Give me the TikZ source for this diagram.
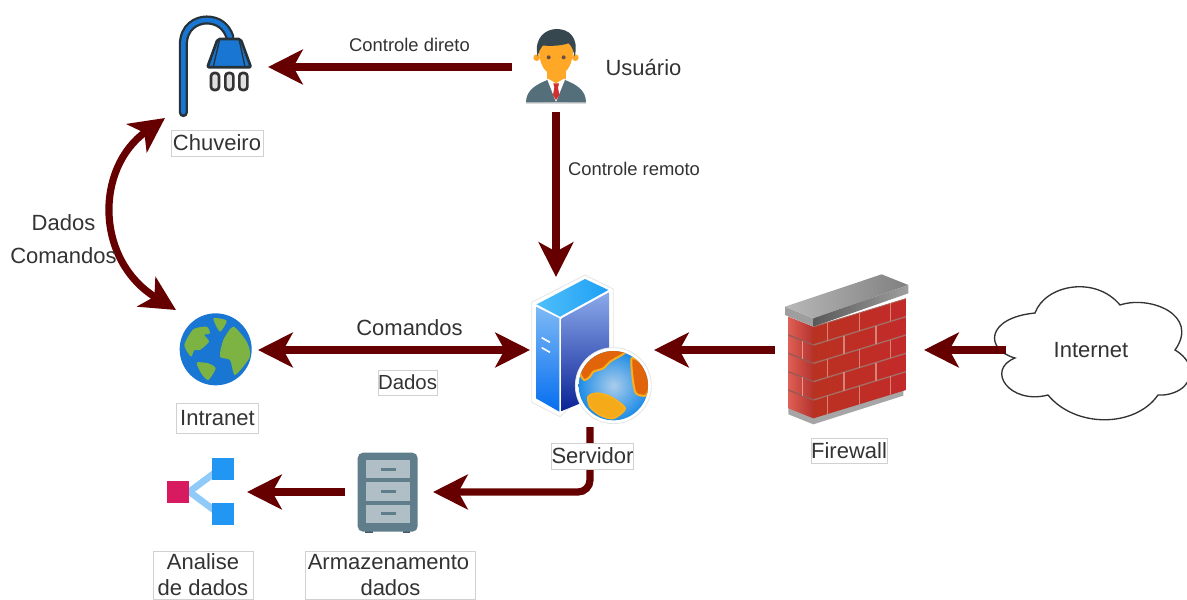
\documentclass[tikz,border=0pt]{standalone}
\usepackage{fontspec}
\setmainfont{Liberation Sans}
\usetikzlibrary{arrows.meta}
\definecolor{flowc}{HTML}{660000}
\definecolor{txt}{HTML}{333333}
\definecolor{pipeblue}{HTML}{1976D2}
\definecolor{outl}{HTML}{263238}
\definecolor{skin}{HTML}{FFA726}
\definecolor{suit}{HTML}{546E7A}
\definecolor{tie}{HTML}{D32F2F}
\definecolor{hair}{HTML}{37474F}
\definecolor{eye}{HTML}{6D4C41}
\definecolor{grn}{HTML}{7CB342}
\definecolor{sla}{RGB}{125,185,245}
\definecolor{slb}{RGB}{5,110,240}
\definecolor{sra}{RGB}{140,170,235}
\definecolor{srb}{RGB}{10,35,150}
\definecolor{sta}{RGB}{80,190,250}
\definecolor{stb}{RGB}{30,160,245}
\definecolor{gla}{RGB}{170,205,235}
\definecolor{glb}{RGB}{30,140,230}
\definecolor{landa}{RGB}{225,100,10}
\definecolor{landb}{RGB}{250,175,30}
\definecolor{landc}{RGB}{245,170,25}
\definecolor{wla}{RGB}{222,95,85}
\definecolor{wlb}{RGB}{180,50,45}
\definecolor{wra}{RGB}{185,50,32}
\definecolor{wrb}{RGB}{195,42,42}
\definecolor{mora}{RGB}{165,110,100}
\definecolor{morb}{RGB}{215,130,120}
\definecolor{morc}{RGB}{150,90,85}
\definecolor{mord}{RGB}{235,150,140}
\definecolor{cabd}{HTML}{455A64}
\definecolor{cab}{HTML}{607D8B}
\definecolor{cabl}{HTML}{B0BEC5}
\definecolor{lblue}{HTML}{90CAF9}
\definecolor{pink}{HTML}{D81B60}
\definecolor{sqblue}{HTML}{2196F3}
\tikzset{
  flow/.style={line width=5.4pt,draw=flowc,-{Stealth[length=26pt,width=26pt,inset=7pt]}},
  flowboth/.style={line width=5.4pt,draw=flowc,{Stealth[length=26pt,width=26pt,inset=7pt]}-{Stealth[length=26pt,width=26pt,inset=7pt]}},
  anchorbox/.style={inner sep=0pt,outer sep=0pt,text=txt,font=\fontsize{16.5}{19.5}\selectfont},
  tag/.style={draw=black!18,line width=.6pt,fill=white,inner sep=0pt,text=txt,align=center,font=\fontsize{16.5}{19.5}\selectfont},
  plain/.style={inner sep=0pt,text=txt,align=center,font=\fontsize{16.5}{19.5}\selectfont},
  small/.style={inner sep=0pt,text=txt,font=\fontsize{13.8}{16}\selectfont},
  zoomed/.style={scale=1/3},
  land/.style={fill=landa,draw=landb,line width=1.5pt},
}
\begin{document}
\begin{tikzpicture}[x=0.75pt,y=-0.75pt]
\useasboundingbox (0,0) rectangle (1187,599);
\clip (0,0) rectangle (1187,599);
\fill[white] (0,0) rectangle (1187,599);

% ---- icon anchor nodes
\node[anchorbox,minimum width=66pt,minimum height=67.5pt] (usuario) at (556,67) {};
\node[anchorbox,minimum width=66pt,minimum height=75pt] (chuveiro) at (224,67) {};
\node[anchorbox,minimum width=63pt,minimum height=57pt] (intranet) at (216,350) {};
\node[anchorbox,minimum width=93pt,minimum height=109.5pt] (servidor) at (592,350) {};
\node[anchorbox,minimum width=111.75pt,minimum height=105pt] (firewall) at (849.5,350) {};
\node[anchorbox,minimum width=66pt,minimum height=60pt] (armario) at (389,492) {};
\node[anchorbox,minimum width=70.5pt,minimum height=52.5pt] (analise) at (200,492) {};
\coordinate (chcurve) at (165,118);
\coordinate (incurve) at (176,310);
\coordinate (srvout) at (590,427);
\coordinate (srvin) at (556,277);

% ---- cloud
\draw[line width=1pt,draw=black!80,fill=white]
 (1035,313) .. controls (1045,285) and (1095,275) .. (1120,305)
 .. controls (1150,295) and (1200,315) .. (1175,350)
 .. controls (1182,354) and (1190,362) .. (1190,370)
 .. controls (1192,388) and (1172,396) .. (1158,395)
 .. controls (1135,428) and (1075,428) .. (1048,395)
 .. controls (1010,405) and (985,370) .. (1015,358)
 .. controls (985,350) and (985,318) .. (1035,313) -- cycle;
\node[anchorbox,minimum width=127.5pt,minimum height=97.5pt] (internet) at (1091,350) {Internet};

% ---- connectors
\draw[flow] (usuario.west) -- (chuveiro.east);
\draw[flow] (usuario.south) -- (srvin);
\draw[flowboth] (intranet.east) -- (servidor.west);
\draw[flow] (firewall.west) -- (servidor.east);
\draw[flow] (internet.west) -- (firewall.east);
\draw[flow,rounded corners=9pt] (srvout) -- (srvout |- armario.east) -- (armario.east);
\draw[flow] (armario.west) -- (analise.east);
\draw[flowboth] (chcurve) .. controls (95,168) and (95,260) .. (incurve);

% ---- shower
\begin{scope}[shift={(150,0)},zoomed]
\draw[line width=6.8pt,draw=outl,line cap=round]
 (100,338) -- (100,135) .. controls (100,80) and (140,60) .. (170,60) .. controls (205,60) and (230,80) .. (240,112);
\draw[line width=3.4pt,draw=pipeblue,line cap=round]
 (100,336) -- (100,135) .. controls (100,80) and (140,60) .. (170,60) .. controls (205,60) and (230,80) .. (240,112);
\draw[line width=2pt,draw=outl,fill=pipeblue,rounded corners=1.5pt,line join=round]
 (203,117) -- (272,117) -- (303,202) -- (172,202) -- cycle;
\draw[line width=1pt,draw=outl] (208,122) -- (190,200);
\draw[line width=1pt,draw=outl] (268,122) -- (285,200);
\foreach \px in {195,238,280}{
 \draw[line width=2pt,draw=black!80,fill=black!12,rounded corners=2.4pt] (\px-12,219) rectangle (\px+12,270);
}
\end{scope}

% ---- user
\begin{scope}[shift={(500,15)},zoomed]
\fill[skin] (110,128) circle (10);
\fill[skin] (226,128) circle (10);
\fill[skin] (140,160) rectangle (197,197);
\fill[skin] (116,80) .. controls (114,165) and (145,180) .. (168,180) .. controls (191,180) and (222,165) .. (220,80) -- cycle;
\fill[black!15] (78,258) rectangle (258,266);
\fill[white] (140,192) -- (197,192) -- (205,262) -- (135,262) -- cycle;
\fill[skin] (143,190) -- (168,205) -- (193,190) -- cycle;
\fill[suit] (78,262) .. controls (78,225) and (110,208) .. (142,195) -- (168,262) -- (195,195) .. controls (228,208) and (258,225) .. (258,262) -- cycle;
\fill[tie] (160,205) -- (177,205) -- (174,218) -- (178,240) -- (168,255) -- (159,240) -- (163,218) -- cycle;
\fill[hair] (113,125) .. controls (100,65) and (140,42) .. (170,42) .. controls (205,42) and (238,65) .. (224,125) .. controls (220,105) and (215,92) .. (205,85) .. controls (175,95) and (145,92) .. (128,92) .. controls (120,100) and (117,110) .. (113,125) -- cycle;
\fill[eye] (146,127) circle (6);
\fill[eye] (191,127) circle (6);
\end{scope}

% ---- intranet globe
\begin{scope}[shift={(165,300)},zoomed]
\fill[pipeblue] (152,148) circle (108);
\begin{scope}
\clip (152,148) circle (106);
\fill[grn] plot[smooth cycle,tension=.4] coordinates {(145,55)(185,62)(165,95)};
\fill[grn] plot[smooth cycle,tension=.4] coordinates {(205,80)(245,125)(255,170)(210,225)(195,180)(165,170)(175,120)};
\fill[grn] plot[smooth cycle,tension=.4] coordinates {(58,135)(85,88)(125,80)(135,100)(118,105)(132,125)(105,150)(88,150)(78,170)};
\fill[grn] plot[smooth cycle,tension=.4] coordinates {(95,188)(130,190)(152,205)(130,240)(110,222)};
\end{scope}
\end{scope}

% ---- server
\begin{scope}[shift={(510,265)},zoomed]
\draw[draw=black!10,fill=white,line width=.6pt,line join=round] (225,30) -- (310,72) -- (310,300) -- (150,455) -- (65,412) -- (65,112) -- cycle;
\shade[top color=sla,bottom color=slb] (78,125) -- (148,160) -- (148,440) -- (78,400) -- cycle;
\shade[top color=sra,bottom color=srb] (155,160) -- (297,82) -- (297,380) -- (155,438) -- cycle;
\shade[left color=sta,right color=stb] (225,42) -- (295,75) -- (150,155) -- (80,118) -- cycle;
\draw[white,line width=1.2pt] (95,218) -- (120,232) (95,248) -- (120,262);
\draw[draw=black!10,fill=white,line width=.6pt] (310,362) circle (114);
\shade[inner color=gla,outer color=glb] (310,362) circle (104);
\begin{scope}
\clip (310,362) circle (104);
\path[land] plot[smooth cycle,tension=.45] coordinates {(210,315)(250,265)(300,252)(345,262)(300,290)(280,310)(250,320)(240,335)(222,345)};
\path[land] plot[smooth cycle,tension=.45] coordinates {(365,280)(395,295)(420,340)(410,390)(378,385)(368,340)};
\path[land,fill=landc] plot[smooth cycle,tension=.45] coordinates {(235,395)(260,385)(300,395)(345,430)(310,460)(270,450)(240,425)};
\end{scope}
\end{scope}

% ---- firewall
\begin{scope}[shift={(770,265)},zoomed]
\fill[black!35] (55,425) -- (130,455) -- (400,370) -- (400,392) -- (130,478) -- (55,448) -- cycle;
\shade[left color=wla,right color=wlb] (55,155) -- (130,185) -- (130,460) -- (55,430) -- cycle;
\shade[left color=wra,right color=wrb] (130,185) -- (408,100) -- (408,375) -- (130,460) -- cycle;
\begin{scope}
\clip (130,185) -- (408,100) -- (408,375) -- (130,460) -- cycle;
\foreach \r in {0,1,2,3,4}{
 \draw[draw=mora,line width=1pt] (130,185+55*\r) -- (408,100+55*\r);
}
\foreach \r/\xx in {0/172,0/268,0/362,1/222,1/318,2/172,2/268,2/362,3/222,3/318,4/172,4/268,4/362}{
 \pgfmathsetmacro{\ya}{185+55*\r+(\xx-130)*(-0.3058)}
 \pgfmathsetmacro{\yb}{\ya+55}
 \draw[draw=morb,line width=1.2pt] (\xx,\ya) -- (\xx,\yb);
}
\end{scope}
\begin{scope}
\clip (55,155) -- (130,185) -- (130,460) -- (55,430) -- cycle;
\foreach \r in {1,2,3,4}{
 \draw[draw=morc,line width=1pt] (55,155+55*\r) -- (130,185+55*\r);
}
\draw[draw=mord,line width=1pt] (97,227) -- (97,283) (97,337) -- (97,393);
\end{scope}
\fill[black!38] (45,125) -- (130,160) -- (130,185) -- (45,150) -- cycle;
\shade[left color=black!28,right color=black!50] (45,125) -- (335,28) -- (415,60) -- (130,160) -- cycle;
\shade[left color=black!65,right color=black!38] (130,160) -- (415,60) -- (415,85) -- (130,185) -- cycle;
\end{scope}

% ---- filing cabinet and analysis icon
\begin{scope}[shift={(150,440)},zoomed]
\fill[cabd] (645,265) rectangle (668,279);
\fill[cabd] (758,265) rectangle (780,279);
\fill[cab,rounded corners=4pt] (623,38) rectangle (803,275);
\foreach \yy in {60,127,194}{
 \fill[cabl] (647,\yy) rectangle (780,\yy+55);
 \fill[cab] (692,\yy+23) rectangle (737,\yy+32);
}
\draw[line width=5pt,draw=lblue] (118,155) -- (192,100);
\draw[line width=5pt,draw=lblue] (118,155) -- (192,210);
\fill[pink] (52,122) rectangle (118,188);
\fill[sqblue] (186,54) rectangle (253,120);
\fill[sqblue] (186,190) rectangle (253,255);
\end{scope}

% ---- labels
\node[tag,minimum width=69pt,minimum height=19.5pt] (lchuveiro) at (217,143) {Chuveiro};
\node[tag,minimum width=62pt,minimum height=19.5pt] (lservidor) at (592.5,456) {Servidor};
\node[tag,minimum width=57pt,minimum height=18.75pt] (lfirewall) at (849,450.5) {Firewall};
\node[tag,minimum width=61pt,minimum height=22.5pt] (lintranet) at (217.5,418) {Intranet};
\node[tag,minimum width=44pt,minimum height=18.75pt,font=\fontsize{15.3}{18}\selectfont] (ldados) at (407.5,382.5) {Dados};
\node[tag,minimum width=75pt,minimum height=36pt] (lanalise) at (203,575) {Analise\\de dados};
\node[tag,minimum width=128pt,minimum height=36pt] (larmario) at (390.5,575) {\hspace*{-3pt}Armazenamento\\dados};
\node[plain] (lusuario) at (643.5,68) {Usuário};
\node[plain] (lcomandos) at (409.5,328) {Comandos};
\node[plain] (ldadosl) at (63.5,223) {Dados};
\node[plain] (lcomandosl) at (63.5,256) {Comandos};
\node[small] (ldireto) at (409.5,45) {Controle direto};
\node[small] (lremoto) at (634,169) {Controle remoto};
\end{tikzpicture}
\end{document}
